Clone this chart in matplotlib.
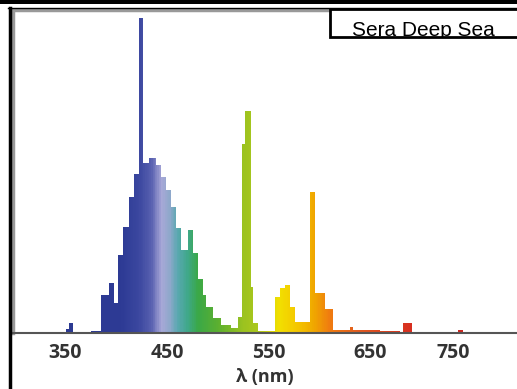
import matplotlib.pyplot as plt
import numpy as np
from matplotlib.colors import LinearSegmentedColormap
from matplotlib.patches import Rectangle
from matplotlib.lines import Line2D

# spectrum: segment start wavelength (nm) and relative intensity (%)
wavelength = [298, 345.6, 350.5, 353.4, 357.4, 375, 385, 392.7, 397.6, 401.6,
              406.5, 412.4, 417.3, 422.2, 426.1, 432, 438.9, 443.8, 448.7,
              453.6, 458.5, 463.4, 470.3, 475.2, 480.1, 485, 488, 494.8,
              502.7, 512.5, 519.4, 524.3, 527.2, 532.2, 535.1, 540, 556.7,
              561.6, 566.5, 571.4, 576.3, 591.1, 596, 605.8, 613.7, 630.4,
              633.3, 660, 679.5, 682.4, 691.3, 736.4, 741.3]
intensity = [0, 0.3, 1.3, 3.2, 0.3, 0.6, 12, 15.8, 9.5, 24.7,
             33.5, 43, 50.6, 100, 54, 55.4, 53.2, 49.4, 45.3,
             39.9, 33.2, 26.3, 32.6, 25.3, 17, 12, 8.2, 4.7,
             2.5, 1.6, 5, 60, 70.6, 14.6, 3.2, 0.6, 11.4,
             14.2, 15.2, 8.2, 3.5, 44.6, 12.7, 7.5, 0.9, 1.9,
             0.9, 0.6, 0.3, 3.2, 0, 0.9, 0]
wl_end = 795

tick_pos = [350, 450, 550, 650, 732]
tick_labels = ['350', '450', '550', '650', '750']

color_nm = [350, 405, 422, 434, 444, 452, 460, 470, 480, 500, 525, 540, 560,
            578, 595, 610, 640, 690, 760]
color_hex = ['#2b3990', '#2e3b95', '#3c48a0', '#5860b0', '#a8a8d8', '#90a8cc',
             '#5aa8b0', '#3fa88a', '#3aa848', '#5cb030', '#9cc320', '#acc81c',
             '#f2e000', '#f5c800', '#f0a800', '#f07c10', '#e05a20', '#d83020',
             '#c02020']

xmin, xmax = 298.4, 794.5
ymax = 102.5

fig = plt.figure(figsize=(5.17, 3.89), dpi=100)
ax = fig.add_axes([13 / 517, 56 / 389, 1 - 13 / 517, 323 / 389])

x = np.array(wavelength + [wl_end])
y = np.array(intensity + [0])
poly = ax.fill_between(x, y, step='post', facecolor='none', edgecolor='none')

pos = [(c - xmin) / (xmax - xmin) for c in color_nm]
pos[0] = 0.0
pos[-1] = 1.0
cmap = LinearSegmentedColormap.from_list('spec', list(zip(pos, color_hex)))
grad = np.linspace(0, 1, 600).reshape(1, -1)
img = ax.imshow(grad, cmap=cmap, extent=[xmin, xmax, 0, ymax],
                aspect='auto', origin='lower')
img.set_clip_path(poly.get_paths()[0], transform=ax.transData)

ax.set_xlim(xmin, xmax)
ax.set_ylim(0, ymax)
ax.set_yticks([])
ax.set_xticks(tick_pos)
ax.set_xticklabels(tick_labels, fontfamily='Open Sans', fontweight='bold',
                   fontsize=14, color='#333333')
ax.tick_params(axis='x', length=0, pad=7)
fig.text(265 / 517, 1 - 377 / 389, 'λ (nm)', fontfamily='Open Sans',
         fontweight='bold', fontsize=13, color='#333333',
         ha='center', va='center')

for s in ['left', 'top']:
    ax.spines[s].set_color('#999999')
    ax.spines[s].set_linewidth(2.5)
ax.spines['right'].set_visible(False)
ax.spines['bottom'].set_color('#555555')
ax.spines['bottom'].set_linewidth(1.5)

# outer black frame
fig.add_artist(Rectangle((0, 385 / 389), 1, 4 / 389, transform=fig.transFigure,
                         color='black', lw=0))
fig.add_artist(Line2D([9.5 / 517, 9.5 / 517], [0, 381 / 389],
                      transform=fig.transFigure, color='black', lw=2.5))
fig.add_artist(Line2D([8 / 517, 1], [381 / 389, 381 / 389],
                      transform=fig.transFigure, color='black', lw=1.0))

# label box
box = Rectangle((330 / 517, 352 / 389), 190 / 517, 28 / 389,
                transform=fig.transFigure, facecolor='white',
                edgecolor='black', lw=2)
fig.add_artist(box)
label = fig.text(423 / 517, 352.5 / 389, 'Sera Deep Sea',
                 fontfamily='Liberation Sans', fontsize=15, ha='center',
                 va='baseline', color='black')
label.set_clip_path(box)

fig.savefig('out.png', dpi=100)
